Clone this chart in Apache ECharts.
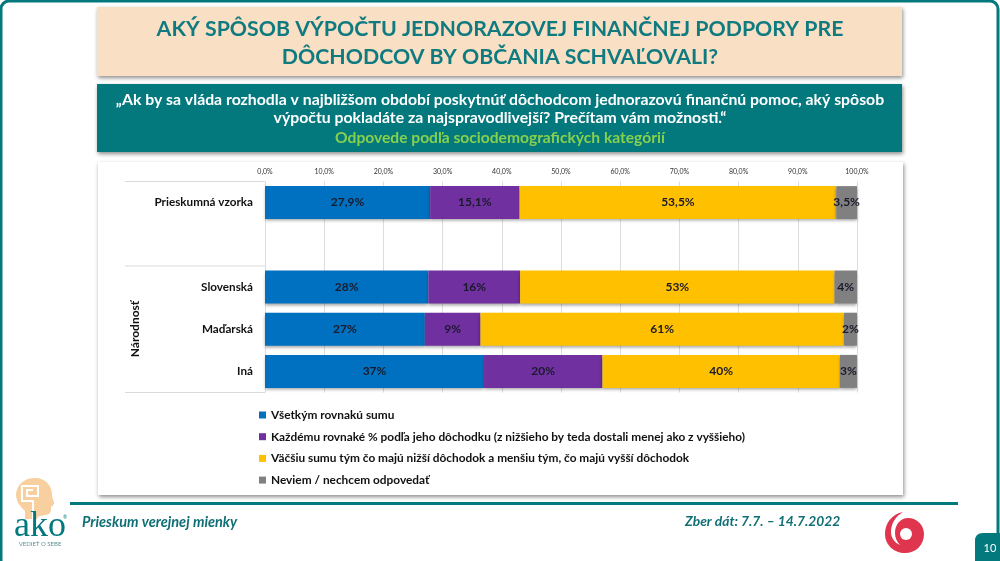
<!DOCTYPE html>
<html>
<head>
<meta charset="utf-8">
<script src="https://cdn.jsdelivr.net/npm/echarts@6/dist/echarts.min.js"></script>
<style>
html, body { margin: 0; padding: 0; background: #fff; }
#chart { width: 1000px; height: 561px; }
</style>
</head>
<body>
<div id="chart"></div>
<script>
const categories = ['Prieskumná vzorka', '', 'Slovenská', 'Maďarská', 'Iná'];
const seriesNames = [
    'Všetkým rovnakú sumu',
    'Každému rovnaké % podľa jeho dôchodku (z nižšieho by teda dostali menej ako z vyššieho)',
    'Väčšiu sumu tým čo majú nižší dôchodok a menšiu tým, čo majú vyšší dôchodok',
    'Neviem / nechcem odpovedať'
];
const equalSum = [27.9, null, 27.6, 27.0, 37.0];
const equalPercent = [15.1, null, 15.5, 9.4, 20.0];
const lowerMore = [53.5, null, 53.1, 61.4, 40.1];
const dontKnow = [3.5, null, 3.8, 2.2, 2.9];
const seriesColors = ['#0070C0', '#7030A0', '#FFC000', '#808080'];

const titleLines = 'AKÝ SPÔSOB VÝPOČTU JEDNORAZOVEJ FINANČNEJ PODPORY PRE\nDÔCHODCOV BY OBČANIA SCHVAĽOVALI?';
const questionLines = '„Ak by sa vláda rozhodla v najbližšom období poskytnúť dôchodcom jednorazovú finančnú pomoc, aký spôsob\nvýpočtu pokladáte za najspravodlivejší? Prečítam vám možnosti.“';
const subLine = 'Odpovede podľa sociodemografických kategórií';

const TEAL = '#03797E';
const FONT = 'Lato';

var myChart = echarts.init(document.getElementById('chart'));

const allValues = [equalSum, equalPercent, lowerMore, dontKnow];

// the graphic component has no plain path type, so the logo shapes get registered
const pathShape = (name, pathData, style, z) => {
    echarts.graphic.registerShape(name, echarts.graphic.extendPath(pathData, {}));
    return { type: name, style: style, z: z, silent: true };
};

const box = (x, y, w, h, fill, extra) => ({
    type: 'rect',
    shape: { x: x, y: y, width: w, height: h },
    style: Object.assign({ fill: fill }, extra && extra.style),
    z: (extra && extra.z) || 0,
    silent: true
});

const txt = (x, y, text, size, color, opts) => ({
    type: 'text',
    x: x,
    y: y,
    rotation: (opts && opts.rotation) || 0,
    style: {
        text: text,
        font: ((opts && opts.fontStyle) || '') + ' ' + ((opts && opts.weight) || 'bold') + ' ' + size + 'px ' + ((opts && opts.family) || FONT),
        fill: color,
        align: (opts && opts.align) || 'center',
        verticalAlign: 'middle',
        lineHeight: opts && opts.lineHeight
    },
    z: 5,
    silent: true
});

const shadow = { shadowBlur: 4, shadowColor: 'rgba(0,0,0,0.45)', shadowOffsetX: 1, shadowOffsetY: 2 };

const graphics = [
    // page frame
    { type: 'rect', shape: { x: 1, y: 1, width: 997, height: 600, r: 8 }, style: { fill: 'none', stroke: TEAL, lineWidth: 3 }, z: 1, silent: true },

    // headers
    box(97, 7, 805, 69, '#F9DFC3', { style: shadow }),
    txt(500, 43, titleLines, 21.3, '#0F7B80', { lineHeight: 28 }),
    box(97, 84, 805, 68, TEAL, { style: shadow }),
    txt(500, 109, questionLines, 15.8, '#ffffff', { lineHeight: 18.5 }),
    txt(500, 138, subLine, 15.6, '#86D04E'),

    // chart card
    box(98, 162, 805, 333, '#ffffff', { style: shadow }),

    // multi level category separators
    box(125, 181, 140, 1, '#DADADA', { z: 2 }),
    box(125, 265.5, 140, 1, '#DADADA', { z: 2 }),
    box(125, 392, 140, 1, '#DADADA', { z: 2 }),
    txt(135, 329, 'Národnosť', 12, '#111', { rotation: Math.PI / 2 }),

    // footer
    box(70, 502, 888, 3, TEAL),
    txt(82, 522, 'Prieskum verejnej mienky', 14.5, '#0F6F75', { align: 'left', fontStyle: 'italic' }),
    txt(685, 522, 'Zber dát: 7.7. – 14.7.2022', 13.8, '#0F6F75', { align: 'left', fontStyle: 'italic' }),
    pathShape('pageTab', 'M975 561 L975 541 Q975 533 983 533 L1000 533 L1000 561 Z', { fill: TEAL }, 3),
    txt(990, 548, '10', 11, '#fff', { weight: 'normal' }),

    // ako logo
    pathShape('akoHead', 'M35 478 C46 478 52 486 52 495 C52 499 55 502 54 504 C53 506 51 506 51 507 C51 511 51 514 46 515 C42 516 38 515 37 519 L25 519 L25 511 C19 506 16 500 16 494 C17 484 25 478 35 478 Z', { fill: '#F8CF9E' }, 3),
    pathShape('akoSpiral', 'M33 519 L33 501 L22 501 L22 486 L38 486 L38 496 L27 496 L27 490 L33 490', { fill: 'none', stroke: '#fff', lineWidth: 2 }, 4),
    txt(40, 527, 'ako', 36, TEAL, { family: 'Liberation Serif', weight: 'normal' }),
    txt(40, 544, 'VEDIEŤ O SEBE', 6, '#5E8F92', { weight: 'normal' }),
    txt(65, 517, '®', 5, TEAL, { weight: 'normal' }),

    // red swirl logo
    pathShape('swirl', 'M903 512 C892 514 885 523 885 534 C885 545 894 553 905 553 C916 553 924 545 924 534 C924 525 917 518 908 518 C900 518 895 525 895 533 C895 538 897 542 900 545 C895 543 891 538 891 532 C891 523 896 516 903 512 Z', { fill: '#E0354E' }, 3),
    { type: 'circle', shape: { cx: 906, cy: 534, r: 6 }, style: { fill: '#fff' }, z: 4, silent: true }
];

var option = {
    backgroundColor: '#ffffff',
    animation: false,
    textStyle: { fontFamily: FONT },
    graphic: graphics,
    grid: { left: 265, right: 143, top: 181.5, bottom: 168.5 },
    legend: {
        orient: 'vertical',
        left: 254,
        top: 403.5,
        itemWidth: 7,
        itemHeight: 7,
        itemGap: 8.7,
        icon: 'rect',
        selectedMode: false,
        textStyle: { fontFamily: FONT, fontWeight: 'bold', fontSize: 11.85, color: '#111', lineHeight: 13 },
        data: seriesNames
    },
    xAxis: {
        type: 'value',
        position: 'top',
        min: 0,
        max: 100,
        interval: 10,
        axisLine: { show: false },
        axisTick: { show: false },
        axisLabel: {
            fontSize: 7,
            color: '#333',
            margin: 6,
            showMinLabel: true,
            showMaxLabel: true,
            formatter: (v) => v.toFixed(1).replace('.', ',') + '%'
        },
        splitLine: { lineStyle: { color: '#DDDDDD', width: 1 } }
    },
    yAxis: {
        type: 'category',
        inverse: true,
        data: categories,
        axisLine: { show: false },
        axisTick: { show: false },
        axisLabel: { fontFamily: FONT, fontWeight: 'bold', fontSize: 11.7, color: '#111', margin: 12 }
    },
    series: seriesNames.map((name, i) => ({
        name: name,
        type: 'bar',
        stack: 'total',
        barWidth: 33,
        z: 3,
        data: allValues[i],
        itemStyle: {
            color: seriesColors[i],
            shadowBlur: 3,
            shadowColor: 'rgba(0,0,0,0.35)',
            shadowOffsetY: 2
        },
        label: {
            show: true,
            position: 'inside',
            fontFamily: FONT,
            fontWeight: 'bold',
            fontSize: 12,
            color: '#1A1A2A',
            // the sample row is shown with one decimal, the rest rounded
            formatter: (p) => p.dataIndex === 0
                ? p.value.toFixed(1).replace('.', ',') + '%'
                : Math.round(p.value) + '%'
        }
    }))
};

option && myChart.setOption(option);
</script>
</body>
</html>
